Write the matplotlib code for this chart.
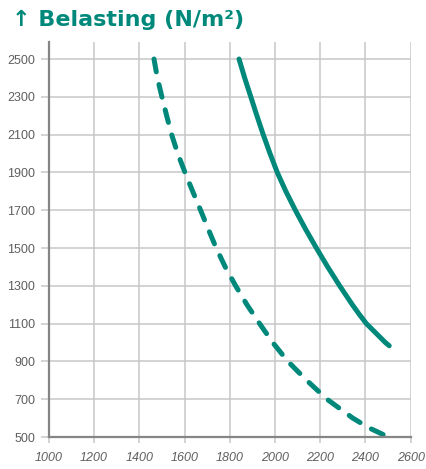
import matplotlib.pyplot as plt

# values
x_ticks = [1000, 1200, 1400, 1600, 1800, 2000, 2200, 2400, 2600]
y_ticks = [500, 700, 900, 1100, 1300, 1500, 1700, 1900, 2100, 2300, 2500]

solid_x = [1841, 1866, 1893, 1920, 1948, 1978, 2010, 2048, 2090, 2135, 2183,
           2233, 2286, 2342, 2372, 2404, 2446, 2488, 2505]
solid_y = [2500, 2400, 2300, 2200, 2100, 2000, 1900, 1800, 1700, 1600, 1500,
           1400, 1300, 1200, 1150, 1100, 1050, 1000, 983]

dashed_x = [1465, 1480, 1500, 1521, 1543, 1570, 1602, 1636, 1671, 1705, 1740,
            1780, 1826, 1876, 1932, 1990, 2057, 2140, 2230, 2344, 2413, 2510]
dashed_y = [2500, 2400, 2300, 2200, 2100, 2000, 1900, 1800, 1700, 1600, 1500,
            1400, 1300, 1200, 1100, 1000, 900, 800, 700, 600, 550, 495]

teal = '#00897b'
grid_c = '#c8c8c8'
spine_c = '#858585'
label_c = '#5f5f5f'

fig = plt.figure(figsize=(4.26, 4.69), dpi=100)
ax = fig.add_axes([0.1146, 0.0682, 0.8495, 0.8422])

ax.plot(solid_x, solid_y, color=teal, lw=3.6, solid_capstyle='round',
        solid_joinstyle='round')
ax.plot(dashed_x, dashed_y, color=teal, lw=3.6, linestyle=(0, (2.6, 2.6)),
        dash_capstyle='round', dash_joinstyle='round')

ax.set_xlim(1000, 2600)
ax.set_ylim(500, 2590)
ax.set_xticks(x_ticks)
ax.set_yticks(y_ticks)
ax.grid(True, color=grid_c, lw=1.1)
ax.set_axisbelow(True)

for s in ['top', 'right']:
    ax.spines[s].set_visible(False)
for s in ['left', 'bottom']:
    ax.spines[s].set_color(spine_c)
    ax.spines[s].set_linewidth(1.6)

ax.tick_params(axis='both', width=1.1, color=grid_c, labelcolor=label_c,
               labelsize=9)
ax.tick_params(axis='x', length=4.5, pad=6)
ax.tick_params(axis='y', length=5.5, pad=4.5)
for lab in ax.get_xticklabels():
    lab.set_family(['Liberation Sans', 'DejaVu Sans'])
    lab.set_style('italic')
for lab in ax.get_yticklabels():
    lab.set_family(['Liberation Sans', 'DejaVu Sans'])

fig.text(0.028, 0.957, '↑ Belasting (N/m²)', color=teal, fontsize=16,
         fontweight='bold', va='center', ha='left', family=['DejaVu Sans'])

fig.savefig('out.png', dpi=100)
